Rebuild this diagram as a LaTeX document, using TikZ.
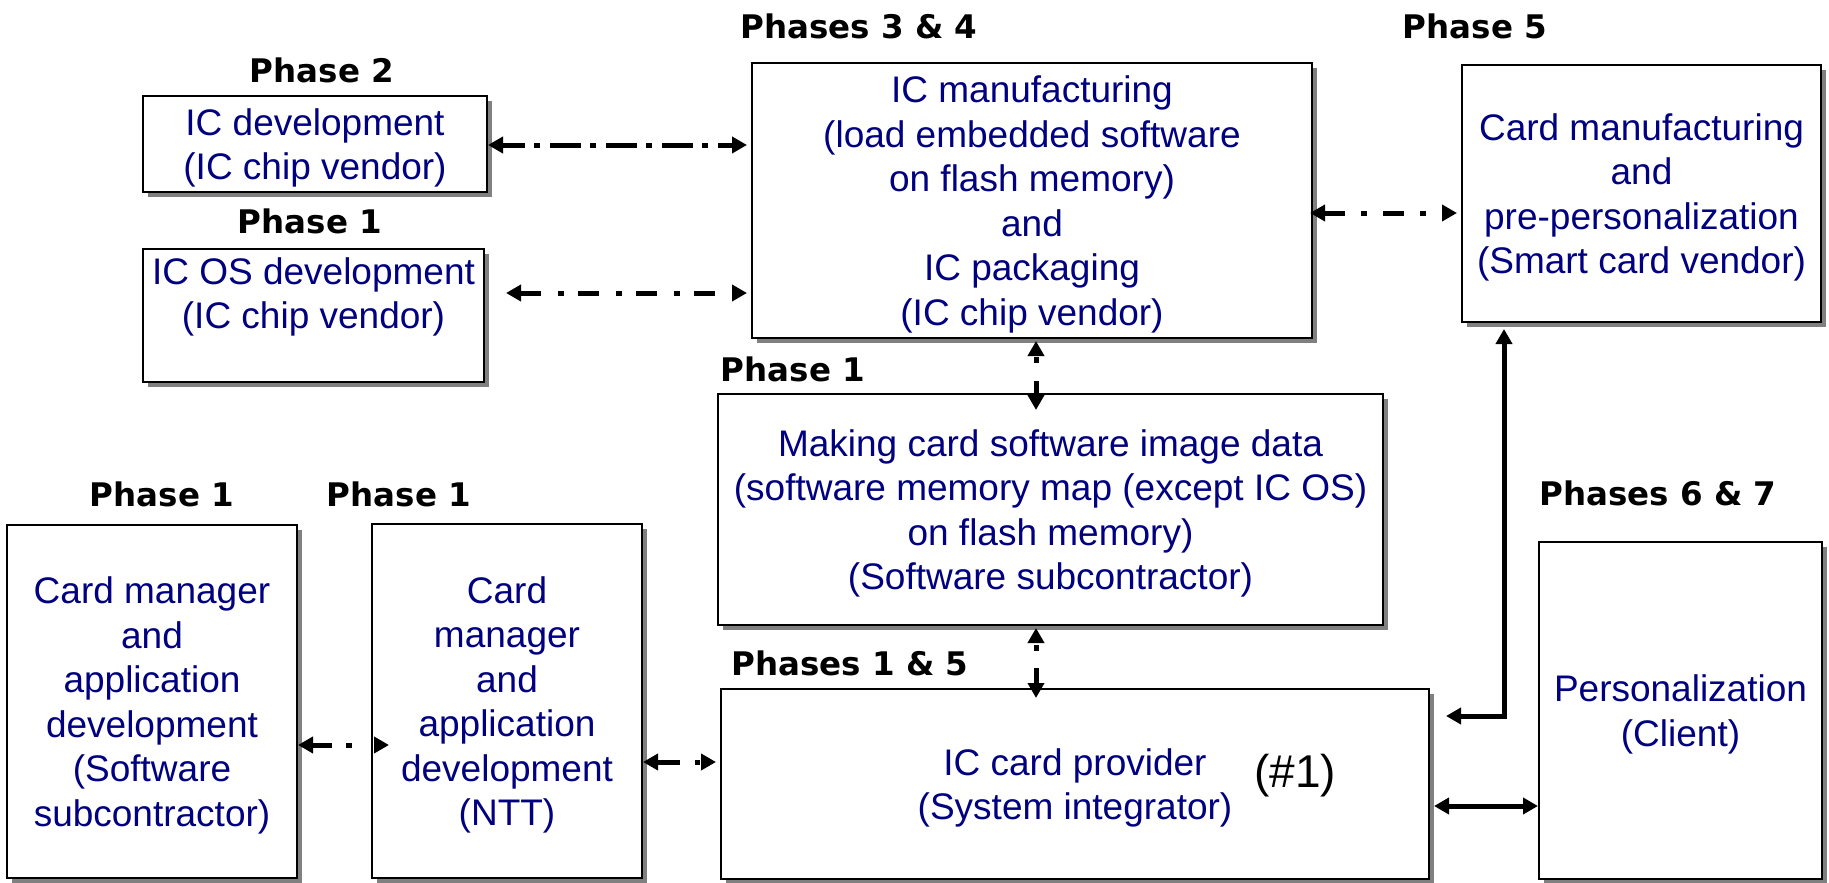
\documentclass[tikz,border=0pt]{standalone}
\usepackage{fontspec}
\setmainfont{Liberation Sans}
\newfontfamily\phasefont{DejaVu Sans}
\usetikzlibrary{arrows.meta,calc,shadows}
\definecolor{navytext}{RGB}{0,0,128}
\definecolor{shadowgray}{RGB}{128,128,128}
\tikzset{
  box/.style={draw=black, line width=2pt, fill=white, inner sep=0pt, align=center,
    text=navytext, font=\fontsize{37}{44.5}\selectfont, text depth=-1.6pt,
    drop shadow={shadow xshift=5pt, shadow yshift=-5pt, fill=shadowgray, opacity=1}},
  phase/.style={inner sep=0pt, text=black, font=\phasefont\bfseries\fontsize{32.5}{39}\selectfont},
  tip/.tip={Triangle[length=15pt,width=16pt]},
  arr/.style={line width=5pt, tip-tip, line join=miter},
}
\begin{document}
\begin{tikzpicture}[x=1pt,y=-1pt]
\useasboundingbox (0,0) rectangle (1829,883);

% boxes
\node[box, minimum width=344pt, minimum height=96pt] (icdev) at (315,144) {IC development\\(IC chip vendor)};
\node[box, minimum width=341pt, minimum height=133pt, text depth=-7pt] (icos) at (313.5,315.5) {IC OS development\\(IC chip vendor)\\\mbox{}};
\node[box, minimum width=560pt, minimum height=275pt] (icman) at (1032,200.5) {IC manufacturing\\(load embedded software\\on flash memory)\\and\\IC packaging\\(IC chip vendor)};
\node[box, minimum width=359pt, minimum height=257pt] (cardman) at (1641.5,193.5) {Card manufacturing\\and\\pre-personalization\\(Smart card vendor)};
\node[box, minimum width=665pt, minimum height=231pt] (making) at (1050.5,509.5) {Making card software image data\\(software memory map (except IC OS)\\on flash memory)\\(Software subcontractor)};
\node[box, minimum width=290pt, minimum height=353pt] (cm1) at (152,701.5) {Card manager\\and\\application\\development\\(Software\\subcontractor)};
\node[box, minimum width=270pt, minimum height=354pt] (ntt) at (507,701) {Card\\manager\\and\\application\\development\\(NTT)};
\node[box, minimum width=708pt, minimum height=190pt] (prov) at (1075,784) {IC card provider\\(System integrator)};
\node[box, minimum width=283pt, minimum height=337pt] (pers) at (1680.5,710.5) {Personalization\\(Client)};
\node[inner sep=0pt, font=\fontsize{46}{50}\selectfont] (num) at (1295,776) {(\#1)};

% phase labels
\node[phase] (p2) at (322,70) {Phase 2};
\node[phase] (p1a) at (310,221) {Phase 1};
\node[phase] (p34) at (859,26) {Phases 3 \& 4};
\node[phase] (p5) at (1475,26) {Phase 5};
\node[phase] (p1b) at (793,369) {Phase 1};
\node[phase] (p1c) at (162,494) {Phase 1};
\node[phase] (p1d) at (399,494) {Phase 1};
\node[phase] (p15) at (850,663) {Phases 1 \& 5};
\node[phase] (p67) at (1658,493) {Phases 6 \& 7};

% helper coordinates
\coordinate (ya) at (0,145);
\coordinate (yb) at (0,293);
\coordinate (yc) at (0,213);
\coordinate (vx) at (1036,0);
\coordinate (yd) at (0,745);
\coordinate (ye) at (0,762);
\coordinate (yf) at (0,806);
\coordinate (ex) at (1504,0);
\coordinate (yg) at (0,716);
\coordinate (osx) at (506,0);

% dash-dot connectors
\draw[arr, dash pattern=on 31pt off 9pt on 6pt off 10pt, dash phase=8pt, shorten >=4pt]
  (icdev.east |- ya) -- (icman.west |- ya);
\draw[arr, dash pattern=on 21pt off 17pt on 6pt off 14pt, shorten >=4pt]
  (osx |- yb) -- (icman.west |- yb);
\draw[arr, dash pattern=on 21pt off 16pt on 6pt off 16pt, shorten <=-3pt, shorten >=4pt]
  (icman.east |- yc) -- (cardman.west |- yc);
\draw[arr, dash pattern=on 0pt off 2pt on 6pt off 18pt on 200pt, shorten <=2pt, shorten >=-17pt]
  (icman.south -| vx) -- (making.north -| vx);
\draw[arr, dash pattern=on 0pt off 3pt on 6pt off 17pt on 200pt, shorten <=2pt, shorten >=-10pt]
  (making.south -| vx) -- (prov.north -| vx);
\draw[arr, dash pattern=on 20pt off 14pt on 6pt off 30pt, shorten >=-18pt]
  (cm1.east |- yd) -- (ntt.west |- yd);
\draw[arr, dash pattern=on 23pt off 15pt on 5pt off 10pt, shorten >=4pt]
  (ntt.east |- ye) -- (prov.west |- ye);

% solid connectors
\draw[arr, shorten <=4pt] (prov.east |- yf) -- (pers.west |- yf);
\draw[arr, shorten <=6pt, shorten >=16pt] (cardman.south -| ex) -- (ex |- yg) -- (prov.east |- yg);
\end{tikzpicture}
\end{document}
